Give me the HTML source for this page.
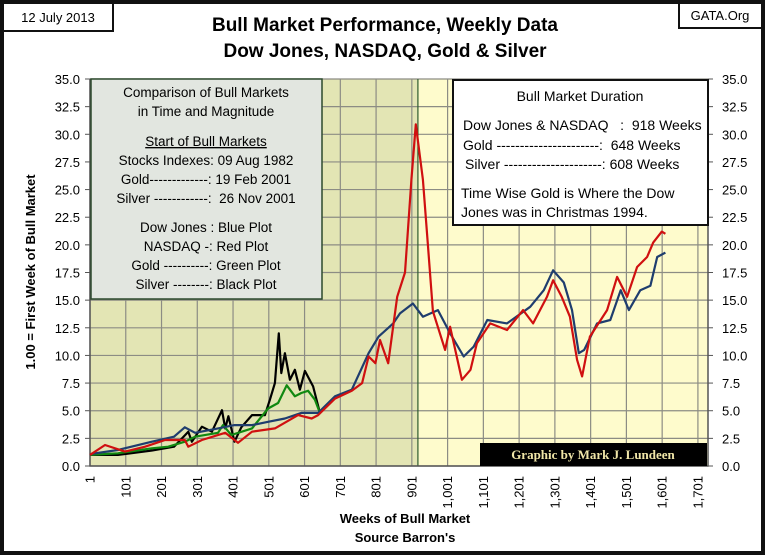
<!DOCTYPE html>
<html><head><meta charset="utf-8"><style>
html,body{margin:0;padding:0;background:#fff}
body{width:765px;height:555px;overflow:hidden;font-family:"Liberation Sans",sans-serif}
.pre text{white-space:pre}
</style></head><body>
<svg id="chart" width="765" height="555" xmlns="http://www.w3.org/2000/svg" font-family="Liberation Sans, sans-serif">
<rect x="2" y="2" width="761" height="551" fill="#fff" stroke="#111" stroke-width="4"/>
<g><rect x="3" y="3" width="110" height="28" fill="#fff" stroke="#111" stroke-width="2"/><text x="58" y="22" text-anchor="middle" font-size="13">12 July 2013</text></g>
<g><rect x="679" y="3" width="83" height="25" fill="#fff" stroke="#111" stroke-width="2"/><text x="720" y="20" text-anchor="middle" font-size="13">GATA.Org</text></g>
<text x="385" y="31" text-anchor="middle" font-size="19" font-weight="bold">Bull Market Performance, Weekly Data</text>
<text x="385" y="57" text-anchor="middle" font-size="19" font-weight="bold">Dow Jones, NASDAQ, Gold &amp; Silver</text>
<rect x="90" y="79" width="328" height="387" fill="#e3e5b4"/>
<rect x="418" y="79" width="290" height="387" fill="#fefbcc"/>
<g id="grid"></g>
<g id="axes"></g>
<g id="series"></g>
<g>
<rect x="91" y="79" width="231" height="220" fill="#e2e6e0" stroke="#2d4a2d" stroke-width="1.5"/>
<g font-size="13.5" text-anchor="middle" class="pre">
<text x="206" y="97">Comparison of Bull Markets</text>
<text x="206" y="116">in Time and Magnitude</text>
<text x="206" y="146" text-decoration="underline">Start of Bull Markets</text>
<text x="206" y="165">Stocks Indexes: 09 Aug 1982</text>
<text x="206" y="184">Gold-------------: 19 Feb 2001</text>
<text x="206" y="203">Silver ------------:  26 Nov 2001</text>
<text x="206" y="232">Dow Jones : Blue Plot</text>
<text x="206" y="251">NASDAQ -: Red Plot</text>
<text x="206" y="270">Gold ----------: Green Plot</text>
<text x="206" y="289">Silver --------: Black Plot</text>
</g></g>
<g>
<rect x="453" y="80" width="255" height="145" fill="#fff" stroke="#111" stroke-width="2"/>
<g font-size="14" class="pre">
<text x="580" y="101" text-anchor="middle">Bull Market Duration</text>
<text x="463" y="130">Dow Jones &amp; NASDAQ   :  918 Weeks</text>
<text x="463" y="150">Gold ----------------------:  648 Weeks</text>
<text x="465" y="169">Silver ---------------------: 608 Weeks</text>
<text x="461" y="198">Time Wise Gold is Where the Dow</text>
<text x="461" y="217">Jones was in Christmas 1994.</text>
</g></g>
<g><rect x="480" y="443" width="227" height="23" fill="#000"/><text x="593" y="459" text-anchor="middle" font-family="Liberation Serif, serif" font-weight="bold" font-size="13" fill="#f0e6a8">Graphic by Mark J. Lundeen</text></g>
<text transform="translate(35,272) rotate(-90)" text-anchor="middle" font-size="13" font-weight="bold">1.00 = First Week of Bull Market</text>
<text x="405" y="523" text-anchor="middle" font-size="13" font-weight="bold">Weeks of Bull Market</text>
<text x="405" y="542" text-anchor="middle" font-size="13" font-weight="bold">Source Barron's</text>
</svg>
<script>
const yTicks=[0,2.5,5,7.5,10,12.5,15,17.5,20,22.5,25,27.5,30,32.5,35];
const xTicks=[1,101,201,301,401,501,601,701,801,901,1001,1101,1201,1301,1401,1501,1601,1701];
const dowWeeks=[1,6,79,174,236,266,295,359,405,454,499,546,592,639,686,733,780,808,849,868,904,932,974,1008,1046,1074,1112,1167,1232,1270,1296,1326,1349,1368,1383,1419,1456,1485,1508,1540,1568,1587,1610];
const dowValues=[1.0,1.1,1.45,2.2,2.65,3.5,3.0,3.4,3.7,3.7,4.0,4.3,4.8,4.8,6.3,6.9,10.2,11.7,12.9,13.8,14.7,13.5,14.1,12.0,9.9,10.8,13.2,12.9,14.4,15.9,17.7,16.6,14.1,10.2,10.5,12.9,13.2,15.9,14.1,15.9,16.3,18.9,19.3];
const nasWeeks=[1,43,99,155,211,266,276,314,379,415,454,518,583,621,639,686,733,762,780,799,812,835,860,882,900,912,932,946,960,994,1008,1041,1065,1083,1120,1167,1212,1240,1279,1296,1320,1343,1363,1377,1399,1447,1475,1503,1531,1559,1576,1600,1610];
const nasValues=[1.0,1.9,1.3,1.75,2.35,2.35,1.75,2.35,3.0,2.1,3.1,3.4,4.6,4.3,4.6,6.1,6.8,7.5,9.9,9.3,11.4,9.3,15.3,17.5,26.0,30.9,25.9,20.0,14.0,10.5,12.6,7.8,8.7,11.1,12.9,12.3,14.1,12.9,15.3,16.8,15.3,13.5,9.6,8.1,11.7,14.1,17.1,15.3,18.0,18.9,20.2,21.2,21.0];
const goldWeeks=[1,79,174,220,266,295,359,373,396,454,499,527,551,574,592,611,630,644];
const goldValues=[1.0,1.15,1.6,1.75,2.2,2.65,3.0,3.7,2.8,3.4,5.2,5.7,7.3,6.3,6.6,6.8,6.0,4.8];
const silverWeeks=[1,79,174,236,276,286,314,342,370,379,388,405,424,454,490,504,518,529,536,546,560,574,588,602,625,644];
const silverValues=[1.0,1.0,1.4,1.75,3.1,2.2,3.55,3.1,5.05,3.4,4.5,2.2,3.5,4.6,4.6,6.0,7.5,12.0,8.4,10.2,7.8,8.7,6.9,8.6,7.2,4.8];

const NS='http://www.w3.org/2000/svg';
const X0=90,Y0=466,XR=708,YT=79;
function xs(w){return X0+(w-1)*0.3576;}
function ys(v){return Y0-v*11.057;}
function mk(tag,attrs,parent){const e=document.createElementNS(NS,tag);for(const k in attrs)e.setAttribute(k,attrs[k]);parent.appendChild(e);return e;}
const grid=document.getElementById('grid'),axes=document.getElementById('axes'),series=document.getElementById('series');
yTicks.forEach(v=>{
  const l=mk('line',{x1:X0,x2:XR,y1:ys(v),y2:ys(v),stroke:'#8c8c84','stroke-width':1.2},grid);
  
  
  const tl=mk('text',{x:80,y:ys(v)+5,'text-anchor':'end','font-size':13},axes);tl.textContent=v.toFixed(1);
  
  
  const tr=mk('text',{x:722,y:ys(v)+5,'font-size':13},axes);tr.textContent=v.toFixed(1);
  
  
  mk('line',{x1:X0-5,x2:X0,y1:ys(v),y2:ys(v),stroke:'#555'},axes);
  mk('line',{x1:XR,x2:XR+5,y1:ys(v),y2:ys(v),stroke:'#555'},axes);
});
xTicks.forEach(w=>{
  const l=mk('line',{x1:xs(w),x2:xs(w),y1:YT,y2:Y0,stroke:'#8c8c84','stroke-width':1.2},grid);
  
  
  const t=mk('text',{transform:'translate('+(xs(w)+4.5)+',476) rotate(-90)','text-anchor':'end','font-size':13},axes);
  t.textContent=w.toLocaleString('en-US');
  
  
});
const div=mk('line',{x1:xs(918),x2:xs(918),y1:YT,y2:Y0,stroke:'#2d5a2d','stroke-width':1.2},grid);


const ax=mk('path',{d:'M'+X0+' '+YT+'V'+Y0+'H'+XR+'V'+YT,fill:'none',stroke:'#555','stroke-width':1.5},axes);


function draw(weeks,vals,color,name){
  const d=weeks.map((w,i)=>(i?'L':'M')+xs(w).toFixed(1)+' '+ys(vals[i]).toFixed(1)).join('');
  const p=mk('path',{d:d,fill:'none',stroke:color,'stroke-width':2.2,'stroke-linejoin':'round'},series);
  
  
}
draw(silverWeeks,silverValues,'#000','silver-line');
draw(goldWeeks,goldValues,'#118811','gold-line');
draw(dowWeeks,dowValues,'#1f3d6e','dow-jones-line');
draw(nasWeeks,nasValues,'#d01010','nasdaq-line');
</script>
</body></html>
